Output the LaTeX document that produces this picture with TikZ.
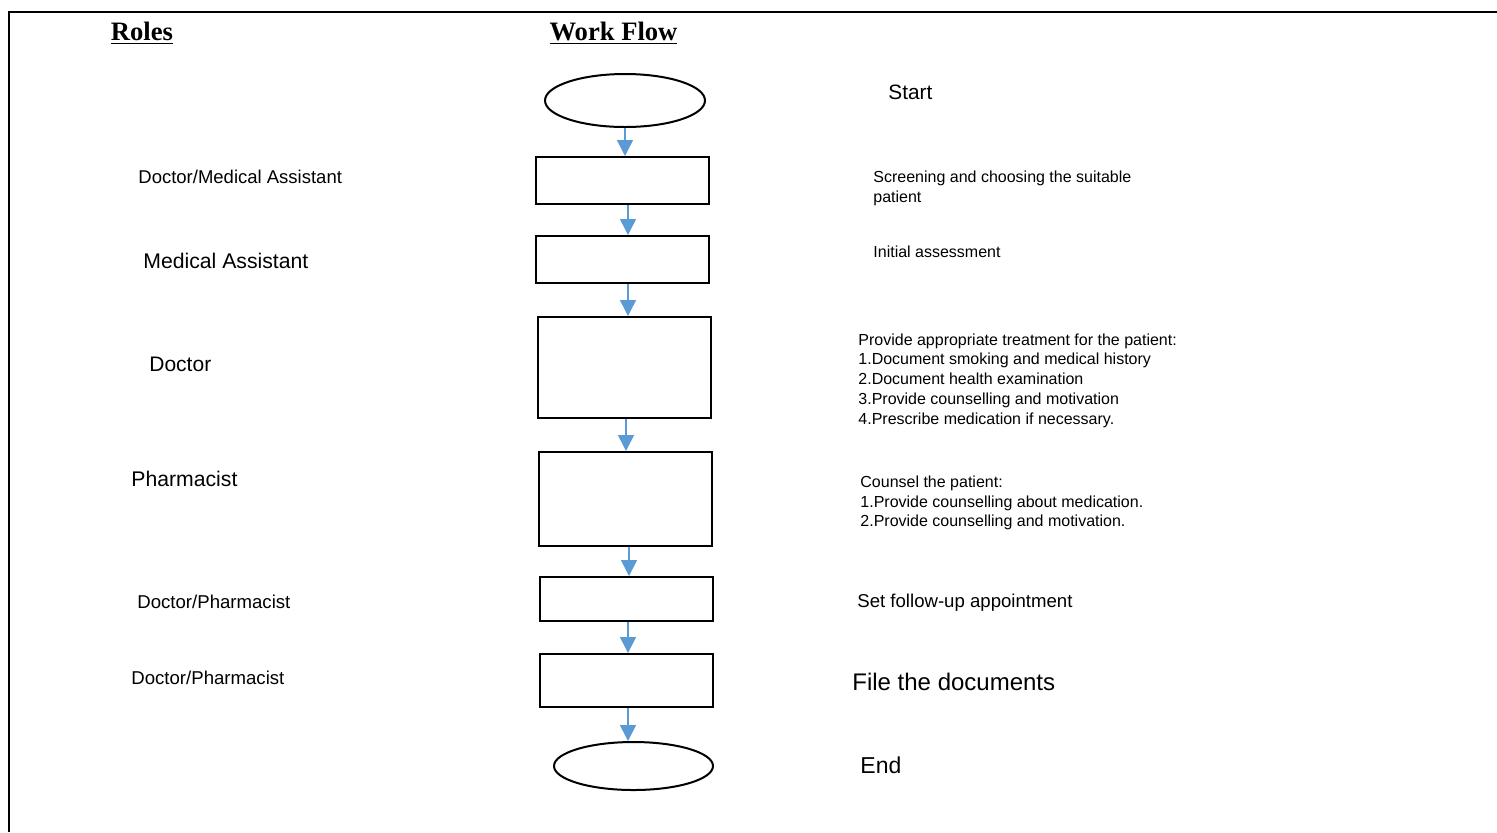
\documentclass[tikz,border=0pt]{standalone}
\usepackage{fontspec}
\setmainfont{Liberation Sans}
\newfontfamily\headfont{Liberation Serif}
\usetikzlibrary{shapes.geometric,arrows.meta}
\definecolor{flowblue}{RGB}{91,155,213}

\begin{document}
\begin{tikzpicture}[x=0.5pt,y=-0.5pt,every node/.style={inner sep=0pt},
  stepbox/.style={draw,line width=1pt,minimum width=86.5pt},
  endcap/.style={draw,ellipse,line width=1pt},
  flow/.style={draw=flowblue,line width=0.75pt,-{Triangle[width=8pt,length=8pt]}},
  role/.style={anchor=west},
  task/.style={anchor=west,align=left,font=\fontsize{8}{9.9}\selectfont},
  head/.style={font=\headfont\bfseries\fontsize{13.3}{16}\selectfont}]
\useasboundingbox (0,0) rectangle (1497,832);
% outer frame (only left and top edges show)
\draw[line width=1.2pt] (9,832) -- (9,12) -- (1497,12);
% column headings
\node[head] (rolehead) at (142,33) {\underline{Roles}};
\node[head] (flowhead) at (613.5,33) {\underline{Work Flow}};
% work flow shapes
\node[endcap,minimum width=80pt,minimum height=26.5pt] (start) at (625,100.5) {};
\node[stepbox,minimum height=23.5pt] (screen) at (622.5,180.5) {};
\node[stepbox,minimum height=23.5pt] (assess) at (622.5,259.5) {};
\node[stepbox,minimum height=50.5pt] (treat) at (624.5,367.5) {};
\node[stepbox,minimum height=47pt] (counsel) at (625.5,499) {};
\node[stepbox,minimum height=22pt] (followup) at (626.5,599) {};
\node[stepbox,minimum height=26.5pt] (filing) at (626.5,680.5) {};
\node[endcap,minimum width=79.5pt,minimum height=24pt] (stop) at (633.5,766) {};
% arrows between the steps
\foreach \a/\b/\dx in {start/screen/0,screen/assess/2.75,assess/treat/2.75,treat/counsel/0.75,counsel/followup/1.75,followup/filing/0.75,filing/stop/0.75}
  \draw[flow] ([xshift=\dx pt]\a.south) -- ([xshift=\dx pt]\a.south |- \b.north);
% roles
\node[role,font=\fontsize{9.25}{11}\selectfont] (role1) at (138,177) {Doctor/Medical Assistant};
\node[role,font=\fontsize{10.6}{12}\selectfont] (role2) at (143,261) {Medical Assistant};
\node[role,font=\fontsize{10.5}{12}\selectfont] (role3) at (149,364) {Doctor};
\node[role,font=\fontsize{10.6}{12}\selectfont] (role4) at (131,479) {Pharmacist};
\node[role,font=\fontsize{9.3}{11}\selectfont] (role5) at (137,602) {Doctor/Pharmacist};
\node[role,font=\fontsize{9.3}{11}\selectfont] (role6) at (131,678) {Doctor/Pharmacist};
% step descriptions
\node[role,font=\fontsize{10.4}{12}\selectfont] (task0) at (888,92) {Start};
\node[task] (task1) at (873,188) {Screening and choosing the suitable\\patient};
\node[task] (task2) at (873,252) {Initial assessment};
\node[task] (task3) at (858,380.5) {Provide appropriate treatment for the patient:\\1.Document smoking and medical history\\2.Document health examination\\3.Provide counselling and motivation\\4.Prescribe medication if necessary.};
\node[task] (task4) at (860,503) {Counsel the patient:\\1.Provide counselling about medication.\\2.Provide counselling and motivation.};
\node[role,font=\fontsize{9.3}{11}\selectfont] (task5) at (857,603) {Set follow-up appointment};
\node[role,font=\fontsize{12}{14}\selectfont] (task6) at (852,682) {File the documents};
\node[role,font=\fontsize{11.5}{14}\selectfont] (task7) at (860,765) {End};
\end{tikzpicture}
\end{document}
